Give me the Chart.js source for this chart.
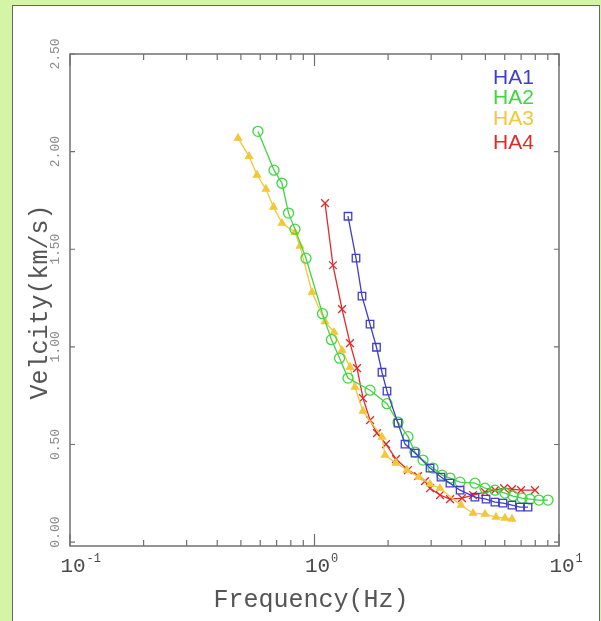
<!DOCTYPE html>
<html>
<head>
<meta charset="utf-8">
<script src="https://cdn.jsdelivr.net/npm/chart.js@4.4.0/dist/chart.umd.min.js"></script>
<style>
  html, body { margin: 0; padding: 0; background: #d4f4a6; overflow: hidden; }
  #panel { position: absolute; left: 12px; top: 5px; width: 586px; height: 625px; background: #fff; border: 1px solid #666; }
  #chart { position: absolute; left: 0; top: 0; }
</style>
</head>
<body>
<div id="panel"></div>
<canvas id="chart" width="601" height="621"></canvas>
<script>
// dispersion curves
const seriesNames = ['HA1', 'HA2', 'HA3', 'HA4'];
const seriesColors = ['#3f3fcc', '#3fd63f', '#f2c73a', '#dd2b2b'];

const ha1Freq = [1.371, 1.478, 1.564, 1.687, 1.793, 1.888, 1.979, 2.195, 2.345, 2.577, 2.968, 3.291, 3.58, 3.94, 4.53, 5.03, 5.47, 5.90, 6.42, 6.93, 7.47];
const ha1Vel  = [1.669, 1.454, 1.260, 1.116, 0.998, 0.870, 0.773, 0.609, 0.502, 0.456, 0.379, 0.333, 0.302, 0.266, 0.230, 0.220, 0.205, 0.200, 0.189, 0.179, 0.179];

const ha2Freq = [0.587, 0.683, 0.736, 0.783, 0.832, 0.923, 1.078, 1.173, 1.266, 1.371, 1.687, 1.980, 2.196, 2.412, 2.576, 2.778, 3.053, 3.323, 3.584, 3.937, 4.534, 4.982, 5.473, 6.013, 6.485, 7.061, 7.608, 8.283, 9.016];
const ha2Vel  = [2.104, 1.905, 1.838, 1.685, 1.603, 1.454, 1.170, 1.037, 0.942, 0.840, 0.778, 0.709, 0.614, 0.540, 0.461, 0.420, 0.379, 0.343, 0.328, 0.307, 0.302, 0.276, 0.266, 0.251, 0.236, 0.225, 0.220, 0.215, 0.215];

const ha3Freq = [0.487, 0.540, 0.582, 0.633, 0.680, 0.736, 0.832, 0.872, 0.977, 1.104, 1.202, 1.296, 1.397, 1.464, 1.579, 1.888, 1.942, 2.154, 2.389, 2.676, 2.968, 3.261, 3.974, 4.450, 4.982, 5.525, 6.013, 6.424];
const ha3Vel  = [2.069, 1.976, 1.880, 1.808, 1.716, 1.634, 1.587, 1.516, 1.280, 1.129, 1.075, 0.983, 0.896, 0.794, 0.671, 0.538, 0.446, 0.405, 0.369, 0.333, 0.297, 0.276, 0.189, 0.148, 0.143, 0.128, 0.123, 0.118];

const ha4Freq = [1.104, 1.190, 1.296, 1.397, 1.492, 1.579, 1.687, 1.801, 1.961, 2.154, 2.412, 2.651, 2.831, 2.968, 3.261, 3.584, 4.011, 4.450, 4.982, 5.473, 5.958, 6.424, 6.995, 7.977];
const ha4Vel  = [1.736, 1.418, 1.193, 1.019, 0.891, 0.737, 0.625, 0.558, 0.502, 0.425, 0.369, 0.338, 0.312, 0.276, 0.241, 0.220, 0.225, 0.241, 0.256, 0.266, 0.276, 0.271, 0.266, 0.266];

// axis ticks
const xMajorTicks = [0.1, 1, 10];
const xMinorTicks = [0.2, 0.3, 0.4, 0.5, 0.6, 0.7, 0.8, 0.9, 2, 3, 4, 5, 6, 7, 8, 9];
const xTickExponents = ['-1', '0', '1'];
const yTicks = [0, 0.5, 1, 1.5, 2, 2.5];
const yTickLabels = ['0.00', '0.50', '1.00', '1.50', '2.00', '2.50'];

const pts = (xs, ys) => xs.map((x, i) => ({ x: x, y: ys[i] }));

function curve(i, freq, vel, style, radius, filled) {
  const c = seriesColors[i];
  return {
    label: seriesNames[i],
    data: pts(freq, vel),
    showLine: true,
    borderColor: c,
    borderWidth: 1.3,
    pointStyle: style,
    pointRadius: radius,
    pointBorderColor: c,
    pointBorderWidth: 1.3,
    pointBackgroundColor: filled ? c : 'rgba(0,0,0,0)'
  };
}

const frameDecor = {
  id: 'frameDecor',
  afterDraw(chart) {
    const { ctx, chartArea: a, scales: { x, y } } = chart;
    ctx.save();
    ctx.strokeStyle = '#707070';
    ctx.lineWidth = 1.5;
    ctx.strokeRect(a.left, a.top, a.right - a.left, a.bottom - a.top);

    ctx.lineWidth = 1.2;
    ctx.beginPath();
    const xTick = (v, len) => {
      const px = x.getPixelForValue(v);
      ctx.moveTo(px, a.bottom); ctx.lineTo(px, a.bottom - len);
      ctx.moveTo(px, a.top); ctx.lineTo(px, a.top + len);
    };
    xMinorTicks.forEach(v => xTick(v, 6));
    xMajorTicks.forEach(v => xTick(v, 12));
    yTicks.forEach(v => {
      const py = y.getPixelForValue(v);
      ctx.moveTo(a.left, py); ctx.lineTo(a.left + 5, py);
      ctx.moveTo(a.right, py); ctx.lineTo(a.right - 5, py);
    });
    ctx.stroke();

    // y tick labels, rotated; the end ones sit a little higher
    ctx.fillStyle = '#8c8c8c';
    ctx.font = '13px "Liberation Mono"';
    ctx.textAlign = 'center';
    ctx.textBaseline = 'middle';
    yTicks.forEach((v, i) => {
      const shift = (i === 0) ? -10 : 0;
      ctx.save();
      ctx.translate(a.left - 14, y.getPixelForValue(v) + shift);
      ctx.rotate(-Math.PI / 2);
      ctx.fillText(yTickLabels[i], 0, 0);
      ctx.restore();
    });

    // x tick labels 10^n
    ctx.fillStyle = '#4a4a4a';
    ctx.textBaseline = 'alphabetic';
    xMajorTicks.forEach((v, i) => {
      const px = x.getPixelForValue(v) + 3;
      ctx.font = '21px "Liberation Mono"';
      ctx.textAlign = 'center';
      ctx.fillText('10', px, a.bottom + 26);
      const w = ctx.measureText('10').width;
      ctx.font = '12px "Liberation Mono"';
      ctx.textAlign = 'left';
      ctx.fillText(xTickExponents[i], px + w / 2 + 1, a.bottom + 16);
    });

    // axis titles
    ctx.fillStyle = '#555';
    ctx.font = '25px "Liberation Mono"';
    ctx.textAlign = 'center';
    ctx.fillText('Frequency(Hz)', 311, 607);
    ctx.save();
    ctx.translate(47, (a.top + a.bottom) / 2 + 2);
    ctx.rotate(-Math.PI / 2);
    ctx.fillText('Velcity(km/s)', 0, 0);
    ctx.restore();

    // legend: coloured names only
    const legendY = [78.5, 98.5, 119, 143.5];
    ctx.font = '21px "Liberation Sans"';
    ctx.textAlign = 'left';
    ctx.textBaseline = 'middle';
    seriesNames.forEach((n, i) => {
      ctx.fillStyle = seriesColors[i];
      ctx.fillText(n, 493, legendY[i]);
    });
    ctx.restore();
  }
};

new Chart(document.getElementById('chart'), {
  type: 'scatter',
  data: {
    datasets: [
      curve(0, ha1Freq, ha1Vel, 'rect', 5.3, false),
      curve(1, ha2Freq, ha2Vel, 'circle', 5, false),
      curve(2, ha3Freq, ha3Vel, 'triangle', 4, true),
      curve(3, ha4Freq, ha4Vel, 'crossRot', 5.5, false)
    ]
  },
  options: {
    responsive: false,
    animation: false,
    devicePixelRatio: 1,
    layout: { padding: { left: 70, right: 42, top: 54, bottom: 75 } },
    plugins: { legend: { display: false }, tooltip: { enabled: false } },
    scales: {
      x: { type: 'logarithmic', min: 0.1, max: 10, display: false },
      y: { type: 'linear', min: -0.02, max: 2.5, display: false }
    }
  },
  plugins: [frameDecor]
});
</script>
</body>
</html>
